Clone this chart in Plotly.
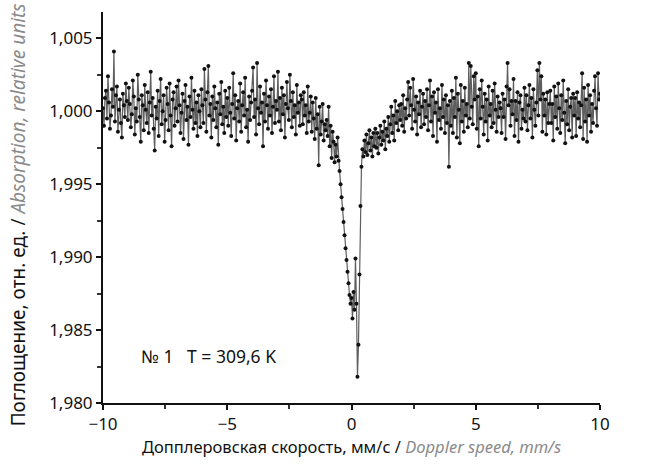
import numpy as np
import plotly.graph_objects as go

# Relative absorption; one block per 1 mm/s (25 channels, step 0.04 mm/s)
absorption = [
    # -10.00 .. -9.04
    1.0002, 0.9990, 1.0009, 1.0014, 0.9995, 1.0024, 1.0006, 0.9988, 0.9997, 1.0015,
    1.0003, 1.0041, 0.9993, 1.0011, 1.0017, 0.9986, 1.0001, 1.0008, 0.9992, 0.9982,
    1.0012, 1.0004, 0.9996, 1.0019, 1.0007,
    # -9.00 .. -8.04
    0.9994, 1.0016, 1.0005, 0.9989, 0.9998, 1.0021, 1.0010, 0.9984, 1.0002, 0.9993,
    1.0025, 1.0008, 0.9996, 0.9979, 1.0011, 1.0004, 0.9987, 1.0018, 1.0001, 0.9992,
    1.0013, 0.9985, 1.0006, 1.0027, 0.9997,
    # -8.00 .. -7.04
    1.0009, 0.9988, 0.9973, 1.0003, 0.9995, 1.0014, 0.9983, 1.0007, 1.0022, 0.9991,
    1.0000, 1.0011, 0.9979, 0.9994, 1.0016, 1.0005, 0.9987, 1.0019, 0.9997, 0.9976,
    1.0008, 1.0013, 0.9990, 1.0002, 1.0017,
    # -7.00 .. -6.04
    0.9993, 1.0021, 1.0004, 0.9985, 0.9999, 1.0012, 0.9981, 1.0007, 1.0018, 0.9994,
    1.0003, 0.9977, 1.0010, 0.9996, 1.0023, 1.0001, 0.9988, 1.0014, 0.9992, 1.0006,
    0.9983, 1.0011, 1.0000, 0.9989, 1.0015,
    # -6.00 .. -5.04
    1.0004, 0.9992, 1.0029, 1.0008, 0.9986, 1.0013, 1.0031, 0.9997, 1.0005, 0.9982,
    1.0010, 0.9994, 1.0017, 1.0002, 0.9989, 1.0006, 0.9977, 1.0012, 0.9998, 1.0020,
    0.9991, 1.0003, 0.9985, 1.0014, 0.9996,
    # -5.00 .. -4.04
    1.0009, 0.9990, 1.0016, 0.9999, 0.9983, 1.0005, 1.0026, 0.9995, 1.0011, 0.9980,
    1.0002, 1.0007, 0.9993, 1.0019, 0.9986, 1.0004, 1.0013, 0.9997, 1.0023, 0.9989,
    1.0001, 0.9979, 1.0010, 0.9994, 1.0006,
    # -4.00 .. -3.04
    1.0014, 1.0030, 0.9996, 1.0008, 0.9984, 1.0033, 1.0002, 0.9991, 1.0017, 0.9999,
    1.0006, 0.9976, 1.0012, 0.9993, 1.0021, 1.0004, 0.9988, 1.0010, 0.9997, 1.0015,
    0.9985, 1.0003, 1.0024, 0.9992, 1.0007,
    # -3.00 .. -2.04
    1.0001, 1.0027, 0.9993, 1.0009, 0.9987, 1.0016, 0.9998, 1.0011, 0.9982, 1.0005,
    1.0020, 1.0002, 0.9994, 1.0025, 1.0007, 0.9989, 1.0013, 0.9996, 1.0004, 0.9984,
    1.0018, 0.9999, 1.0006, 0.9990, 1.0011,
    # -2.00 .. -1.04
    1.0008, 0.9991, 1.0013, 0.9997, 1.0004, 0.9985, 1.0017, 0.9993, 0.9999, 1.0010,
    0.9986, 1.0006, 0.9995, 0.9981, 1.0009, 0.9988, 0.9998, 0.9963, 1.0003, 0.9984,
    0.9993, 1.0005, 0.9980, 0.9991, 0.9987,
    # -1.00 .. -0.04
    0.9994, 0.9983, 1.0003, 0.9976, 0.9990, 0.9968, 0.9986, 0.9979, 0.9965, 0.9977,
    0.9969, 0.9982, 0.9966, 0.9959, 0.9950, 0.9941, 0.9933, 0.9924, 0.9915, 0.9906,
    0.9898, 0.9890, 0.9882, 0.9874, 0.9868,
    # 0.00 .. 0.96
    0.9872, 0.9858, 0.9876, 0.9864, 0.9899, 0.9868, 0.9818, 0.9840, 0.9888, 0.9935,
    0.9962, 0.9974, 0.9969, 0.9980, 0.9972, 0.9984, 0.9970, 0.9978, 0.9987, 0.9973,
    0.9982, 0.9969, 0.9985, 0.9976, 0.9988,
    # 1.00 .. 1.96
    0.9975, 0.9985, 0.9971, 0.9982, 0.9990, 0.9977, 0.9986, 0.9980, 0.9993, 0.9974,
    0.9988, 0.9983, 0.9996, 0.9979, 0.9991, 1.0003, 0.9985, 0.9997, 0.9980, 1.0007,
    0.9992, 1.0000, 0.9987, 1.0004, 0.9994,
    # 2.00 .. 2.96
    1.0005, 0.9990, 1.0011, 0.9986, 1.0002, 0.9995, 1.0008, 1.0020, 0.9997, 1.0016,
    1.0004, 0.9988, 1.0022, 1.0001, 0.9993, 1.0010, 0.9984, 1.0006, 0.9998, 1.0014,
    0.9989, 1.0003, 1.0012, 0.9991, 1.0007,
    # 3.00 .. 3.96
    0.9996, 1.0015, 0.9987, 1.0004, 1.0021, 0.9993, 1.0010, 0.9983, 1.0013, 0.9999,
    1.0006, 0.9979, 1.0015, 0.9994, 1.0002, 0.9988, 1.0018, 0.9996, 1.0008, 0.9985,
    1.0011, 0.9992, 1.0004, 0.9962, 1.0007,
    # 4.00 .. 4.96
    0.9990, 1.0014, 0.9985, 1.0009, 0.9996, 1.0023, 0.9982, 1.0012, 1.0001, 0.9978,
    1.0018, 0.9993, 1.0007, 0.9986, 1.0016, 0.9997, 1.0005, 0.9989, 1.0033, 0.9995,
    1.0031, 1.0003, 0.9991, 1.0024, 1.0008,
    # 5.00 .. 5.96
    1.0026, 0.9988, 1.0010, 0.9976, 1.0015, 0.9995, 1.0021, 1.0003, 0.9984, 1.0012,
    0.9993, 1.0008, 0.9980, 1.0017, 0.9997, 1.0005, 0.9989, 1.0014, 0.9992, 1.0019,
    1.0001, 0.9986, 1.0010, 0.9996, 1.0006,
    # 6.00 .. 6.96
    1.0002, 0.9985, 1.0012, 0.9996, 1.0008, 0.9981, 1.0017, 1.0033, 1.0004, 1.0015,
    0.9990, 1.0007, 0.9998, 1.0022, 0.9983, 1.0007, 0.9994, 1.0013, 0.9979, 1.0006,
    1.0011, 0.9988, 1.0001, 0.9995, 1.0016,
    # 7.00 .. 7.96
    0.9993, 1.0011, 0.9987, 1.0004, 1.0018, 0.9995, 1.0009, 0.9982, 1.0015, 1.0001,
    0.9990, 1.0006, 1.0028, 0.9997, 1.0033, 1.0008, 1.0024, 0.9986, 1.0012, 0.9997,
    1.0008, 0.9984, 1.0013, 0.9992, 1.0005,
    # 8.00 .. 8.96
    1.0014, 0.9992, 1.0005, 0.9980, 1.0017, 0.9996, 1.0010, 0.9988, 1.0019, 1.0002,
    0.9985, 1.0011, 0.9994, 1.0021, 0.9999, 0.9978, 1.0007, 0.9991, 1.0015, 0.9987,
    1.0003, 1.0009, 0.9982, 1.0012, 0.9997,
    # 9.00 .. 9.96
    1.0009, 0.9983, 1.0013, 0.9995, 1.0006, 0.9989, 1.0004, 1.0026, 0.9981, 1.0016,
    0.9993, 1.0008, 0.9979, 1.0018, 0.9997, 1.0011, 0.9986, 1.0005, 0.9992, 1.0014,
    1.0024, 1.0002, 0.9990, 1.0026, 1.0008,
    # 10.00
    1.0012,
]

# Doppler velocity channels, mm/s: regular spectrometer grid from -10 to 10
v_min, v_max = -10.0, 10.0
velocity = np.linspace(v_min, v_max, len(absorption))

x_tick_vals = [-10, -5, 0, 5, 10]
x_tick_text = ["\u221210", "\u22125", "0", "5", "10"]
y_tick_vals = [0.980, 0.985, 0.990, 0.995, 1.000, 1.005]
y_tick_text = ["1,980", "1,985", "1,990", "1,995", "1,000", "1,005"]

sample_label = "\u2116 1   T = 309,6 K"
label_x, label_y = -8.55, 0.9832

x_title = "Допплеровская скорость, мм/с / <span style='color:#8a8a8a'><i>Doppler speed, mm/s</i></span>"
y_title = "Поглощение, отн. ед. / <span style='color:#8a8a8a'><i>Absorption, relative units</i></span>"

FONT = "Noto Sans"

fig = go.Figure()
fig.add_trace(go.Scatter(
    x=velocity, y=absorption, mode="lines+markers",
    line=dict(color="#5e5e5e", width=1.2),
    marker=dict(color="#111111", size=4),
    showlegend=False,
))

fig.add_annotation(x=label_x, y=label_y, text=sample_label, showarrow=False,
                   xanchor="left", yanchor="middle",
                   font=dict(family=FONT, size=17.5, color="#111"))

# y-axis title placed as rotated text close to the left edge
fig.add_annotation(xref="paper", yref="paper", x=-0.171, y=0.48, text=y_title,
                   textangle=-90, showarrow=False, xanchor="center", yanchor="middle",
                   font=dict(family=FONT, size=19, color="#111"))

fig.update_layout(
    width=657, height=466,
    margin=dict(l=103, r=57, t=12, b=63),
    paper_bgcolor="white", plot_bgcolor="white",
    font=dict(family=FONT, size=16, color="#111"),
)
fig.update_xaxes(
    range=[-10, 10], tickvals=x_tick_vals, ticktext=x_tick_text,
    showgrid=False, zeroline=False,
    showline=True, linecolor="#111", linewidth=2,
    ticks="outside", ticklen=5, tickwidth=2, tickcolor="#111",
    minor=dict(dtick=2.5, tick0=-10, ticks="outside", ticklen=4, tickwidth=1.5, tickcolor="#333"),
    tickfont=dict(family=FONT, size=17, color="#111"),
    title=dict(text=x_title, font=dict(family=FONT, size=16.5, color="#111"), standoff=2),
)
fig.update_yaxes(
    range=[0.980, 1.0068], tickvals=y_tick_vals, ticktext=y_tick_text,
    showgrid=False, zeroline=False,
    showline=True, linecolor="#111", linewidth=2,
    ticks="outside", ticklen=5, tickwidth=2, tickcolor="#111",
    minor=dict(dtick=0.0025, tick0=0.98, ticks="outside", ticklen=4, tickwidth=1.5, tickcolor="#333"),
    tickfont=dict(family=FONT, size=17, color="#111"),
)

fig.write_html("out.html")
